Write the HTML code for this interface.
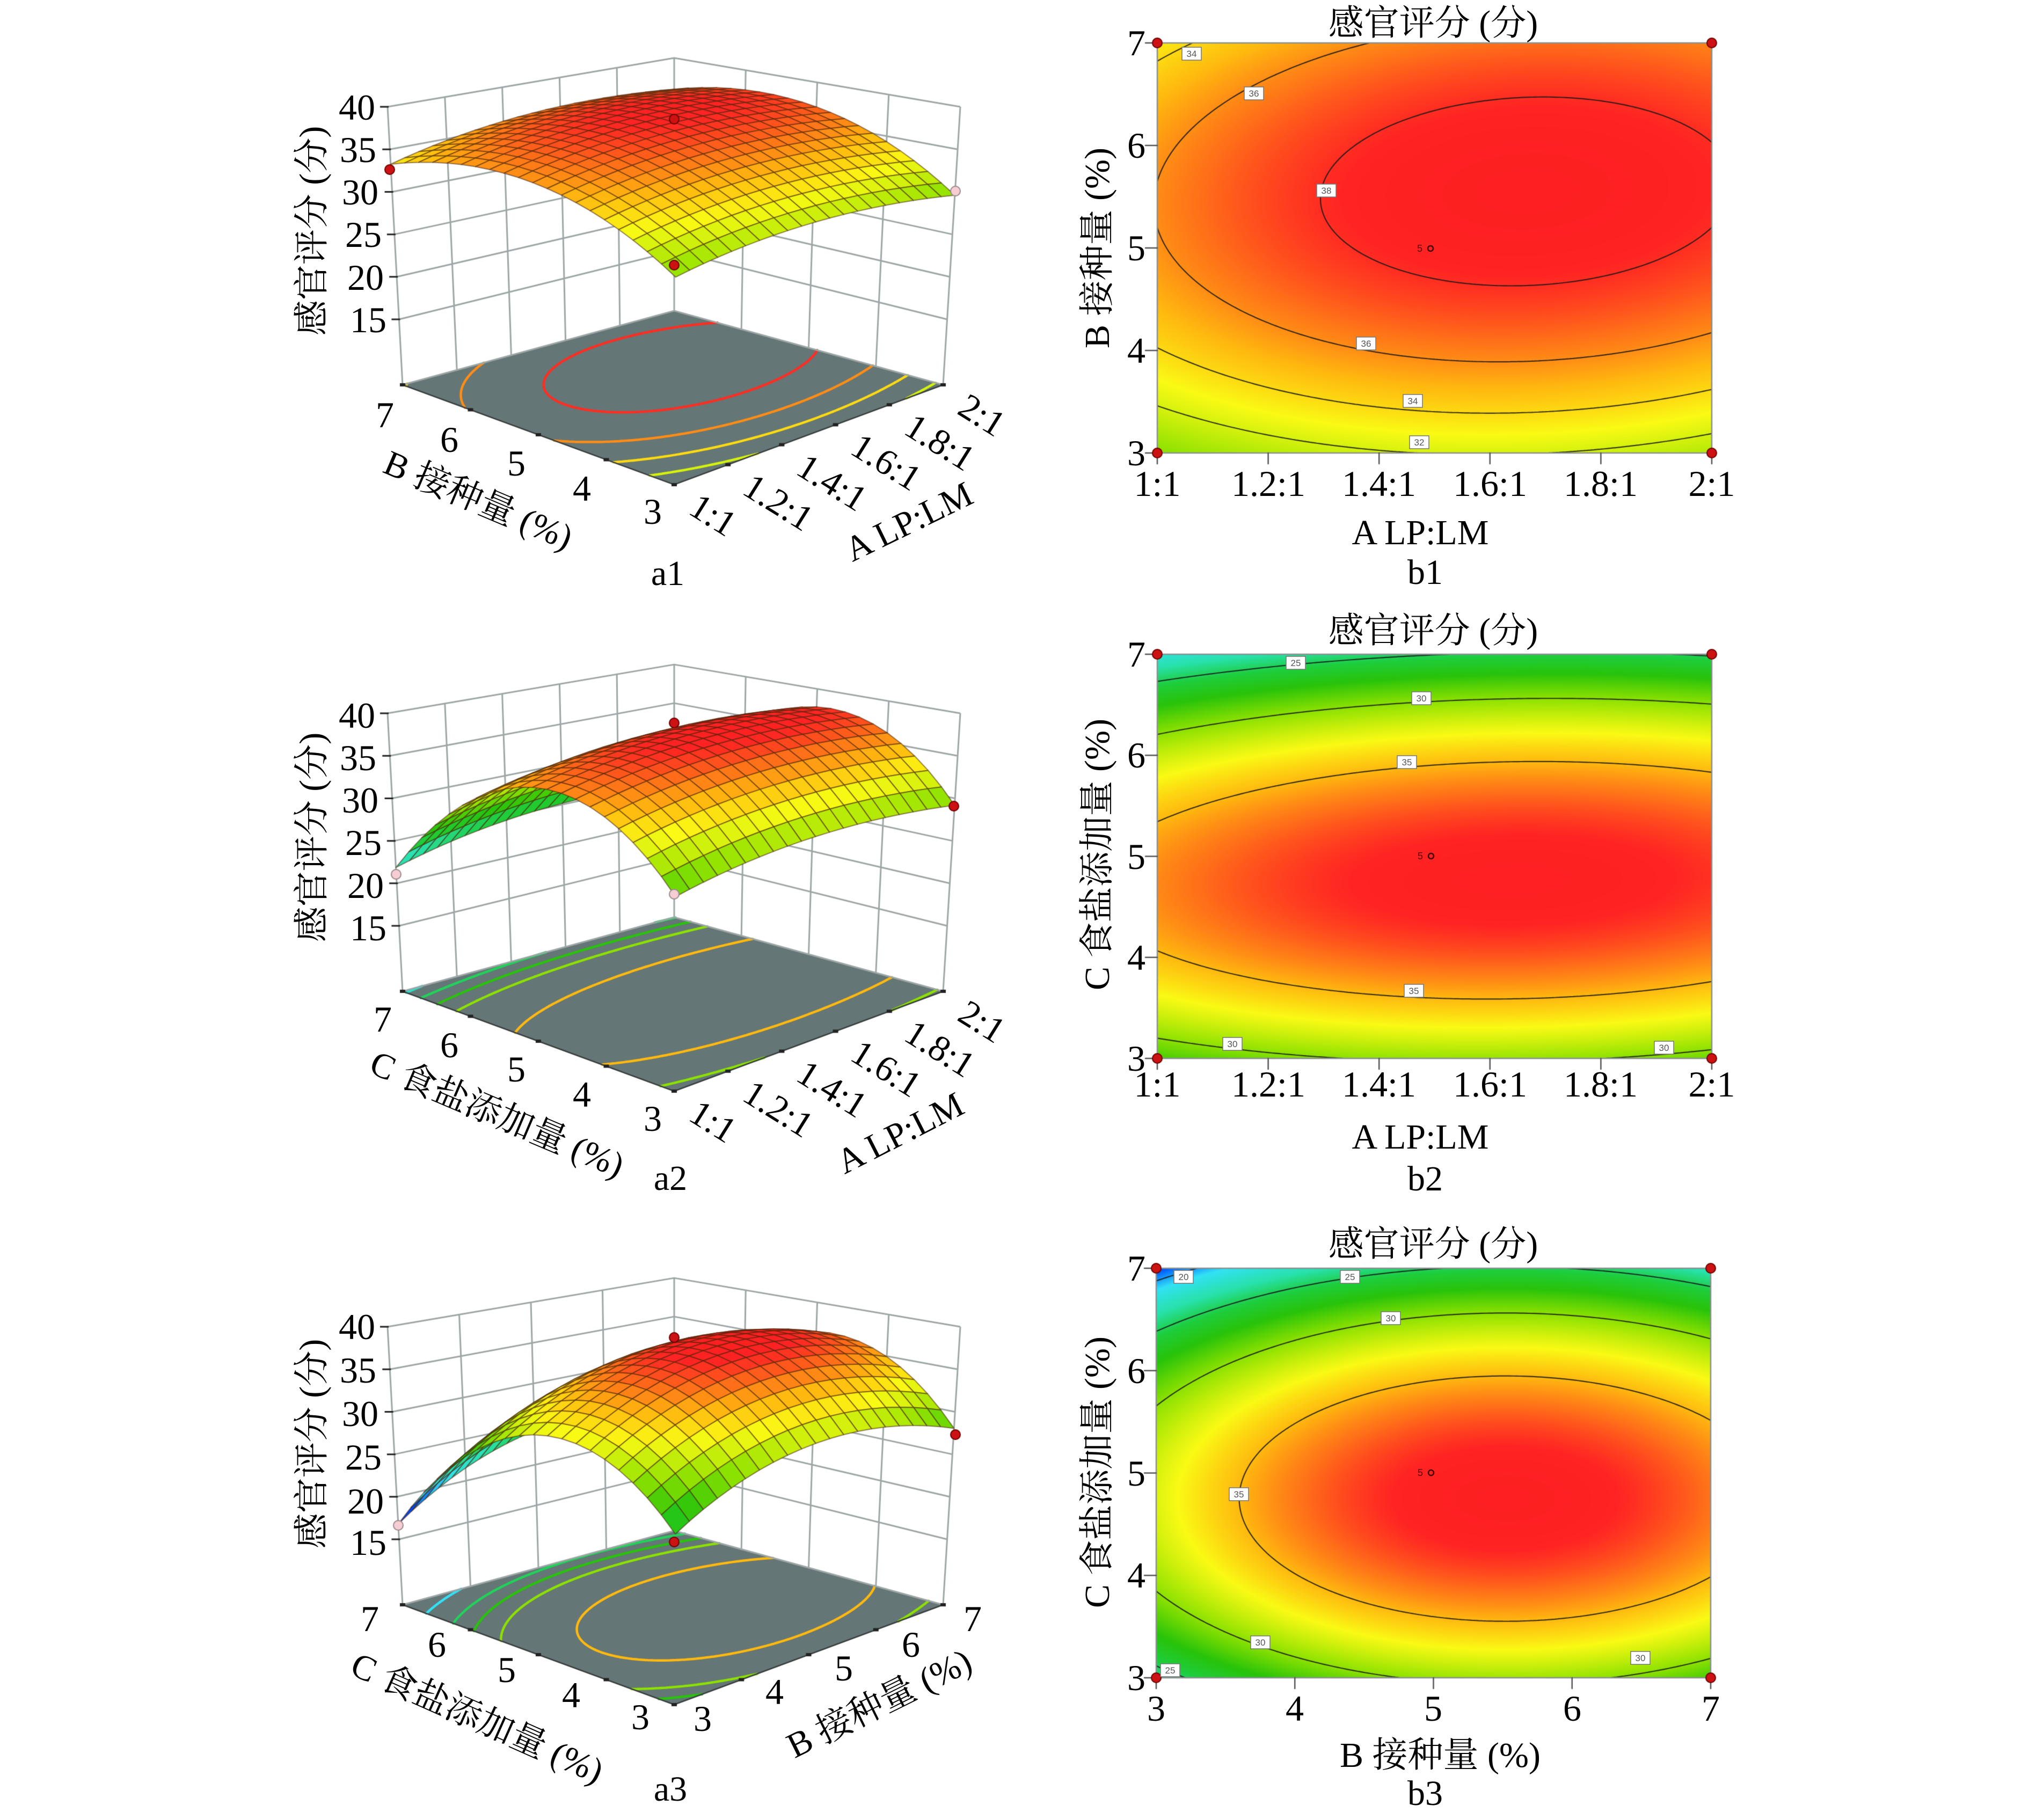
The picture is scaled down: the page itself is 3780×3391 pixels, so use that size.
<!DOCTYPE html>
<html><head><meta charset="utf-8">
<style>
html,body{margin:0;padding:0;background:#fff;}
#wrap{position:relative;width:3780px;height:3391px;overflow:hidden;background:#fff;}
canvas{position:absolute;left:0;top:0;}
svg{position:absolute;left:0;top:0;}
svg text{font-family:"Liberation Serif","Noto Serif CJK SC",serif;fill:#000;}
.n{font-size:68px;}
.ti{font-size:66px;}
svg text.cl{font-size:17px;fill:#555;font-family:"Liberation Sans",sans-serif;}
svg text.cp{font-size:18px;fill:#5a0000;font-family:"Liberation Sans",sans-serif;}
</style></head><body><div id="wrap">
<canvas id="c" width="3780" height="3391"></canvas>
<svg width="3780" height="3391" viewBox="0 0 3780 3391" font-family="Liberation Serif, Noto Serif CJK SC, serif">
<!-- ===== b1 ===== -->
<text class="ti" x="2670" y="65" text-anchor="middle">感官评分 (分)</text>
<g class="n" text-anchor="end">
<text x="2134" y="103">7</text><text x="2134" y="294">6</text><text x="2134" y="485">5</text><text x="2134" y="676">4</text><text x="2134" y="867">3</text>
</g>
<g class="n" text-anchor="middle">
<text x="2156" y="924">1:1</text><text x="2363" y="924">1.2:1</text><text x="2569" y="924">1.4:1</text><text x="2776" y="924">1.6:1</text><text x="2982" y="924">1.8:1</text><text x="3189" y="924">2:1</text>
</g>
<text class="ti" x="2646" y="1014" text-anchor="middle">A LP:LM</text>
<text class="ti" x="2655" y="1088" text-anchor="middle">b1</text>
<text class="ti" transform="translate(2066,462) rotate(-90)" text-anchor="middle">B 接种量 (%)</text>
<!-- ===== b2 ===== -->
<text class="ti" x="2670" y="1197" text-anchor="middle">感官评分 (分)</text>
<g class="n" text-anchor="end">
<text x="2134" y="1242">7</text><text x="2134" y="1430">6</text><text x="2134" y="1619">5</text><text x="2134" y="1807">4</text><text x="2134" y="1995">3</text>
</g>
<g class="n" text-anchor="middle">
<text x="2156" y="2043">1:1</text><text x="2363" y="2043">1.2:1</text><text x="2569" y="2043">1.4:1</text><text x="2776" y="2043">1.6:1</text><text x="2982" y="2043">1.8:1</text><text x="3189" y="2043">2:1</text>
</g>
<text class="ti" x="2646" y="2140" text-anchor="middle">A LP:LM</text>
<text class="ti" x="2655" y="2218" text-anchor="middle">b2</text>
<text class="ti" transform="translate(2066,1592) rotate(-90)" text-anchor="middle">C 食盐添加量 (%)</text>
<!-- ===== b3 ===== -->
<text class="ti" x="2670" y="2340" text-anchor="middle">感官评分 (分)</text>
<g class="n" text-anchor="end">
<text x="2134" y="2386">7</text><text x="2134" y="2577">6</text><text x="2134" y="2768">5</text><text x="2134" y="2958">4</text><text x="2134" y="3149">3</text>
</g>
<g class="n" text-anchor="middle">
<text x="2154" y="3206">3</text><text x="2412" y="3206">4</text><text x="2670" y="3206">5</text><text x="2929" y="3206">6</text><text x="3187" y="3206">7</text>
</g>
<text class="ti" x="2683" y="3292" text-anchor="middle">B 接种量 (%)</text>
<text class="ti" x="2655" y="3363" text-anchor="middle">b3</text>
<text class="ti" transform="translate(2066,2743) rotate(-90)" text-anchor="middle">C 食盐添加量 (%)</text>

<!-- contour labels -->
<g>
<g transform="translate(2220,100)"><rect x="-18" y="-12" width="36" height="24" fill="#fff" stroke="#777" stroke-width="1.5"/><text class="cl" y="6" text-anchor="middle">34</text></g>
<g transform="translate(2336,174)"><rect x="-18" y="-12" width="36" height="24" fill="#fff" stroke="#777" stroke-width="1.5"/><text class="cl" y="6" text-anchor="middle">36</text></g>
<g transform="translate(2471,355)"><rect x="-18" y="-12" width="36" height="24" fill="#fff" stroke="#777" stroke-width="1.5"/><text class="cl" y="6" text-anchor="middle">38</text></g>
<g transform="translate(2545,640)"><rect x="-18" y="-12" width="36" height="24" fill="#fff" stroke="#777" stroke-width="1.5"/><text class="cl" y="6" text-anchor="middle">36</text></g>
<g transform="translate(2632,747)"><rect x="-18" y="-12" width="36" height="24" fill="#fff" stroke="#777" stroke-width="1.5"/><text class="cl" y="6" text-anchor="middle">34</text></g>
<g transform="translate(2644,824)"><rect x="-18" y="-12" width="36" height="24" fill="#fff" stroke="#777" stroke-width="1.5"/><text class="cl" y="6" text-anchor="middle">32</text></g>
<g transform="translate(2414,1235)"><rect x="-18" y="-12" width="36" height="24" fill="#fff" stroke="#777" stroke-width="1.5"/><text class="cl" y="6" text-anchor="middle">25</text></g>
<g transform="translate(2648,1301)"><rect x="-18" y="-12" width="36" height="24" fill="#fff" stroke="#777" stroke-width="1.5"/><text class="cl" y="6" text-anchor="middle">30</text></g>
<g transform="translate(2621,1420)"><rect x="-18" y="-12" width="36" height="24" fill="#fff" stroke="#777" stroke-width="1.5"/><text class="cl" y="6" text-anchor="middle">35</text></g>
<g transform="translate(2634,1846)"><rect x="-18" y="-12" width="36" height="24" fill="#fff" stroke="#777" stroke-width="1.5"/><text class="cl" y="6" text-anchor="middle">35</text></g>
<g transform="translate(2296,1945)"><rect x="-18" y="-12" width="36" height="24" fill="#fff" stroke="#777" stroke-width="1.5"/><text class="cl" y="6" text-anchor="middle">30</text></g>
<g transform="translate(3100,1952)"><rect x="-18" y="-12" width="36" height="24" fill="#fff" stroke="#777" stroke-width="1.5"/><text class="cl" y="6" text-anchor="middle">30</text></g>
<g transform="translate(2205,2379)"><rect x="-18" y="-12" width="36" height="24" fill="#fff" stroke="#777" stroke-width="1.5"/><text class="cl" y="6" text-anchor="middle">20</text></g>
<g transform="translate(2515,2379)"><rect x="-18" y="-12" width="36" height="24" fill="#fff" stroke="#777" stroke-width="1.5"/><text class="cl" y="6" text-anchor="middle">25</text></g>
<g transform="translate(2591,2456)"><rect x="-18" y="-12" width="36" height="24" fill="#fff" stroke="#777" stroke-width="1.5"/><text class="cl" y="6" text-anchor="middle">30</text></g>
<g transform="translate(2308,2784)"><rect x="-18" y="-12" width="36" height="24" fill="#fff" stroke="#777" stroke-width="1.5"/><text class="cl" y="6" text-anchor="middle">35</text></g>
<g transform="translate(2348,3060)"><rect x="-18" y="-12" width="36" height="24" fill="#fff" stroke="#777" stroke-width="1.5"/><text class="cl" y="6" text-anchor="middle">30</text></g>
<g transform="translate(3056,3089)"><rect x="-18" y="-12" width="36" height="24" fill="#fff" stroke="#777" stroke-width="1.5"/><text class="cl" y="6" text-anchor="middle">30</text></g>
<g transform="translate(2180,3112)"><rect x="-18" y="-12" width="36" height="24" fill="#fff" stroke="#777" stroke-width="1.5"/><text class="cl" y="6" text-anchor="middle">25</text></g>
</g>
<!-- center points -->
<g>
<text class="cp" x="2640" y="469">5</text><circle cx="2665" cy="463" r="5" fill="none" stroke="#400" stroke-width="2.5"/>
<text class="cp" x="2641" y="1601">5</text><circle cx="2666" cy="1595" r="5" fill="none" stroke="#400" stroke-width="2.5"/>
<text class="cp" x="2641" y="2750">5</text><circle cx="2666" cy="2744" r="5" fill="none" stroke="#400" stroke-width="2.5"/>
</g>

<!-- ===== a1 ===== -->
<g class="n" text-anchor="end">
<text x="699" y="223">40</text><text x="701" y="302">35</text><text x="705" y="381">30</text><text x="711" y="460">25</text><text x="715" y="540">20</text><text x="720" y="619">15</text>
</g>
<text class="ti" transform="translate(603,430) rotate(-90)" text-anchor="middle">感官评分 (分)</text>
<g class="n" text-anchor="middle">
<text x="717" y="796">7</text><text x="837" y="842">6</text><text x="962" y="886">5</text><text x="1084" y="933">4</text><text x="1216" y="976">3</text>
</g>
<text class="ti" transform="translate(892,930) rotate(23)" y="24" text-anchor="middle">B 接种量 (%)</text>
<g class="n">
<text transform="translate(1292,936) rotate(32)" y="23">1:1</text>
<text transform="translate(1392,899) rotate(32)" y="23">1.2:1</text>
<text transform="translate(1492,862) rotate(32)" y="23">1.4:1</text>
<text transform="translate(1593,824) rotate(32)" y="23">1.6:1</text>
<text transform="translate(1693,787) rotate(32)" y="23">1.8:1</text>
<text transform="translate(1793,750) rotate(32)" y="23">2:1</text>
</g>
<text class="ti" transform="translate(1692,970) rotate(-26)" y="24" text-anchor="middle">A LP:LM</text>
<text class="ti" x="1244" y="1090" text-anchor="middle">a1</text>

<!-- ===== a2 ===== -->
<g class="n" text-anchor="end">
<text x="699" y="1356">40</text><text x="701" y="1435">35</text><text x="705" y="1514">30</text><text x="711" y="1593">25</text><text x="715" y="1673">20</text><text x="720" y="1752">15</text>
</g>
<text class="ti" transform="translate(603,1560) rotate(-90)" text-anchor="middle">感官评分 (分)</text>
<g class="n" text-anchor="middle">
<text x="713" y="1922">7</text><text x="837" y="1970">6</text><text x="962" y="2015">5</text><text x="1084" y="2062">4</text><text x="1216" y="2107">3</text>
</g>
<text class="ti" transform="translate(927,2074) rotate(23)" y="24" text-anchor="middle">C 食盐添加量 (%)</text>
<g class="n">
<text transform="translate(1292,2066) rotate(32)" y="23">1:1</text>
<text transform="translate(1392,2029) rotate(32)" y="23">1.2:1</text>
<text transform="translate(1492,1992) rotate(32)" y="23">1.4:1</text>
<text transform="translate(1593,1954) rotate(32)" y="23">1.6:1</text>
<text transform="translate(1693,1917) rotate(32)" y="23">1.8:1</text>
<text transform="translate(1793,1880) rotate(32)" y="23">2:1</text>
</g>
<text class="ti" transform="translate(1676,2109) rotate(-27)" y="24" text-anchor="middle">A LP:LM</text>
<text class="ti" x="1249" y="2217" text-anchor="middle">a2</text>

<!-- ===== a3 ===== -->
<g class="n" text-anchor="end">
<text x="699" y="2495">40</text><text x="701" y="2576">35</text><text x="705" y="2657">30</text><text x="711" y="2738">25</text><text x="715" y="2820">20</text><text x="720" y="2897">15</text>
</g>
<text class="ti" transform="translate(603,2690) rotate(-90)" text-anchor="middle">感官评分 (分)</text>
<g class="n" text-anchor="middle">
<text x="689" y="3039">7</text><text x="814" y="3087">6</text><text x="944" y="3134">5</text><text x="1064" y="3181">4</text><text x="1193" y="3222">3</text>
</g>
<text class="ti" transform="translate(890,3199) rotate(24)" y="24" text-anchor="middle">C 食盐添加量 (%)</text>
<g class="n" text-anchor="middle">
<text x="1309" y="3225">3</text><text x="1443" y="3175">4</text><text x="1572" y="3131">5</text><text x="1697" y="3087">6</text><text x="1812" y="3039">7</text>
</g>
<text class="ti" transform="translate(1637,3172) rotate(-26.4)" y="24" text-anchor="middle">B 接种量 (%)</text>
<text class="ti" x="1249" y="3355" text-anchor="middle">a3</text>
</svg>
</div>
<script>
(function(){
const ctx=document.getElementById('c').getContext('2d');
ctx.fillStyle='#fff';ctx.fillRect(0,0,3780,3391);
function Y(A,B,C){return 39.02-1.6*(A-0.3)*(A-0.3)-4.2*(B-0.26)*(B-0.26)-10.8*(C+0.125)*(C+0.125)+0.4*A*B+0.5*A*C;}
const ST=[[17,[0,0,230]],[19,[0,90,255]],[21,[50,225,245]],[23.5,[40,225,170]],[25.5,[30,205,60]],[27.5,[40,195,10]],[30,[140,225,0]],[33,[250,250,20]],[35,[255,185,15]],[36.7,[255,110,25]],[38.2,[255,35,35]],[40,[250,25,30]]];
function cmap(v){
  if(v<=ST[0][0])return ST[0][1];
  for(let i=1;i<ST.length;i++){if(v<=ST[i][0]){const a=ST[i-1],b=ST[i];const t=(v-a[0])/(b[0]-a[0]);
    return [a[1][0]+(b[1][0]-a[1][0])*t,a[1][1]+(b[1][1]-a[1][1])*t,a[1][2]+(b[1][2]-a[1][2])*t];}}
  return ST[ST.length-1][1];
}
function rgb(c){return 'rgb('+Math.round(c[0])+','+Math.round(c[1])+','+Math.round(c[2])+')';}
function contour(f,n,level,cb){
  const g=[];for(let i=0;i<=n;i++){const r=[];for(let j=0;j<=n;j++)r.push(f(i/n,j/n));g.push(r);}
  for(let i=0;i<n;i++)for(let j=0;j<n;j++){
    const v=[g[i][j],g[i+1][j],g[i+1][j+1],g[i][j+1]];
    const p=[[i,j],[i+1,j],[i+1,j+1],[i,j+1]];
    const pts=[];
    for(let e=0;e<4;e++){const a=v[e],b=v[(e+1)%4];
      if((a<level)!==(b<level)){const t=(level-a)/(b-a);const pa=p[e],pb=p[(e+1)%4];
        pts.push([(pa[0]+(pb[0]-pa[0])*t)/n,(pa[1]+(pb[1]-pa[1])*t)/n]);}}
    if(pts.length>=2)cb(pts[0],pts[1]);
    if(pts.length===4)cb(pts[2],pts[3]);
  }
}
function dot(x,y,pink){ctx.beginPath();ctx.arc(x,y,9,0,Math.PI*2);ctx.fillStyle=pink?'#f6cdd3':'#cc1212';ctx.fill();ctx.lineWidth=2;ctx.strokeStyle=pink?'#9a8a8c':'#6a0000';ctx.stroke();}

function panel2D(x0,y0,x1,y1,fn,levels,nx){
  const w=x1-x0,h=y1-y0;
  const img=ctx.createImageData(w,h);const d=img.data;
  for(let py=0;py<h;py++){const yc=1-2*(py+0.5)/h;
    for(let px=0;px<w;px++){const xc=-1+2*(px+0.5)/w;const c=cmap(fn(xc,yc));const k=(py*w+px)*4;
      d[k]=c[0];d[k+1]=c[1];d[k+2]=c[2];d[k+3]=255;}}
  ctx.putImageData(img,x0,y0);
  ctx.strokeStyle='rgba(25,25,25,0.85)';ctx.lineWidth=2.2;ctx.lineCap='round';
  for(const L of levels){ctx.beginPath();
    contour((u,v)=>fn(-1+2*u,-1+2*v),160,L,(a,b)=>{ctx.moveTo(x0+a[0]*w,y1-a[1]*h);ctx.lineTo(x0+b[0]*w,y1-b[1]*h);});
    ctx.stroke();}
  ctx.strokeStyle='#8a8f8f';ctx.lineWidth=2.5;ctx.strokeRect(x0,y0,w,h);
  ctx.strokeStyle='#555';ctx.lineWidth=2.5;ctx.beginPath();
  for(let i=0;i<5;i++){const y=y0+h*i/4;ctx.moveTo(x0-22,y);ctx.lineTo(x0,y);}
  for(let i=0;i<nx;i++){const x=x0+w*i/(nx-1);ctx.moveTo(x,y1);ctx.lineTo(x,y1+20);}
  ctx.stroke();
  dot(x0,y0);dot(x1,y0);dot(x0,y1);dot(x1,y1);
}
panel2D(2156,80,3189,844,(x,y)=>Y(x,y,0),[32,34,36,38],6);
panel2D(2156,1219,3189,1972,(x,y)=>Y(x,0,y),[25,30,35],6);
panel2D(2154,2363,3187,3126,(x,y)=>Y(0,x,y),[20,25,30,35],5);

function draw3D(off,fn,ffn,nu,nv,levels,dots){
  const F0=[1256,903+off],L0=[750,717+off],R0=[1757,717+off],K0=[1256,579+off];
  const sF=17.28,sL=15.84,sR=15.84,sK=14.4,dF=0.12,dL=-0.856,dR=0.979,dK=0,zf=7.3;
  const P=(u,v,z)=>{const a=(1-u)*(1-v),b=u*(1-v),c=(1-u)*v,d=u*v;const w=z-zf;
    return [F0[0]*a+L0[0]*b+R0[0]*c+K0[0]*d+(dF*a+dL*b+dR*c+dK*d)*w,
            F0[1]*a+L0[1]*b+R0[1]*c+K0[1]*d-(sF*a+sL*b+sR*c+sK*d)*w];};
  ctx.fillStyle='#657676';ctx.beginPath();ctx.moveTo(F0[0],F0[1]);ctx.lineTo(L0[0],L0[1]);ctx.lineTo(K0[0],K0[1]);ctx.lineTo(R0[0],R0[1]);ctx.closePath();ctx.fill();
  ctx.lineWidth=4.5;ctx.lineCap='round';
  for(const L of levels){ctx.strokeStyle=rgb(cmap(L));ctx.beginPath();
    contour(ffn,90,L,(a,b)=>{const p=P(a[0],a[1],zf),q=P(b[0],b[1],zf);ctx.moveTo(p[0],p[1]);ctx.lineTo(q[0],q[1]);});
    ctx.stroke();}
  ctx.strokeStyle='#9ea6a6';ctx.lineWidth=3;ctx.lineCap='butt';ctx.beginPath();
  for(const z of [15,20,25,30,35,40]){const p=P(1,0,z),q=P(1,1,z),r=P(0,1,z);ctx.moveTo(p[0],p[1]);ctx.lineTo(q[0],q[1]);ctx.lineTo(r[0],r[1]);}
  for(let k=0;k<=nv;k++){const v=k/nv;const p=P(1,v,zf),q=P(1,v,40);ctx.moveTo(p[0],p[1]);ctx.lineTo(q[0],q[1]);}
  for(let k=0;k<=nu;k++){const u=k/nu;const p=P(u,1,zf),q=P(u,1,40);ctx.moveTo(p[0],p[1]);ctx.lineTo(q[0],q[1]);}
  ctx.moveTo(L0[0],L0[1]);ctx.lineTo(K0[0],K0[1]);ctx.lineTo(R0[0],R0[1]);
  ctx.stroke();
  ctx.strokeStyle='#3a3f3f';ctx.lineWidth=2.5;ctx.beginPath();ctx.moveTo(L0[0],L0[1]);ctx.lineTo(F0[0],F0[1]);ctx.lineTo(R0[0],R0[1]);ctx.stroke();
  ctx.fillStyle='#222';
  for(let k=0;k<=nu;k++){const p=P(k/nu,0,zf);ctx.fillRect(p[0]-5,p[1]-3,10,6);}
  for(let k=0;k<=nv;k++){const p=P(0,k/nv,zf);ctx.fillRect(p[0]-5,p[1]-3,10,6);}
  ctx.strokeStyle='#222';ctx.lineWidth=3;ctx.beginPath();
  for(const z of [15,20,25,30,35,40]){const p=P(1,0,z);ctx.moveTo(p[0]-14,p[1]);ctx.lineTo(p[0]+2,p[1]);}
  ctx.stroke();
  const N=20;const Z=[];for(let i=0;i<=N;i++){const r=[];for(let j=0;j<=N;j++)r.push(fn(i/N,j/N));Z.push(r);}
  const Q=[];for(let i=0;i<N;i++)for(let j=0;j<N;j++)Q.push([i,j]);
  Q.sort((a,b)=>(b[0]+b[1])-(a[0]+a[1]));
  ctx.lineWidth=2;ctx.lineJoin='round';
  for(const [i,j] of Q){
    const pts=[P(i/N,j/N,Z[i][j]),P((i+1)/N,j/N,Z[i+1][j]),P((i+1)/N,(j+1)/N,Z[i+1][j+1]),P(i/N,(j+1)/N,Z[i][j+1])];
    const avg=(Z[i][j]+Z[i+1][j]+Z[i+1][j+1]+Z[i][j+1])/4;
    ctx.fillStyle=rgb(cmap(avg));
    ctx.beginPath();ctx.moveTo(pts[0][0],pts[0][1]);for(let k=1;k<4;k++)ctx.lineTo(pts[k][0],pts[k][1]);ctx.closePath();
    ctx.fill();ctx.strokeStyle='rgba(70,35,10,0.55)';ctx.stroke();
  }
  for(const d of dots)dot(d[0],d[1],d[2]);
}
draw3D(0,(u,v)=>{const A=2*v-1,B=2*u-1;return Y(A,B,0)-0.2-1.2*((1+A)/2)*((1-B)/2);},
  (u,v)=>Y(2*v-1,2*u-1,0)+0.4,4,5,[28,30,32,34,36,38],
  [[726,316,0],[1256,222,0],[1780,356,1],[1256,494,0]]);
draw3D(1130,(u,v)=>Y(2*v-1,0,2*u-1),(u,v)=>Y(2*v-1,0,2*u-1),4,5,[22.5,25,27.5,30,35],
  [[738,1629,1],[1256,1347,0],[1256,1666,1],[1777,1502,0]]);
draw3D(2273,(u,v)=>{const B=2*v-1,C=2*u-1;return Y(0,B,C)+1.0*B*C-0.75*C;},
  (u,v)=>{const B=2*v-1,C=2*u-1;return Y(0,B,C)+1.0*B*C-0.75*C;},4,4,[21,25,27.5,30,35],
  [[742,2842,1],[1256,2492,0],[1256,2873,0],[1780,2673,0]]);
})();
</script>
</body></html>
